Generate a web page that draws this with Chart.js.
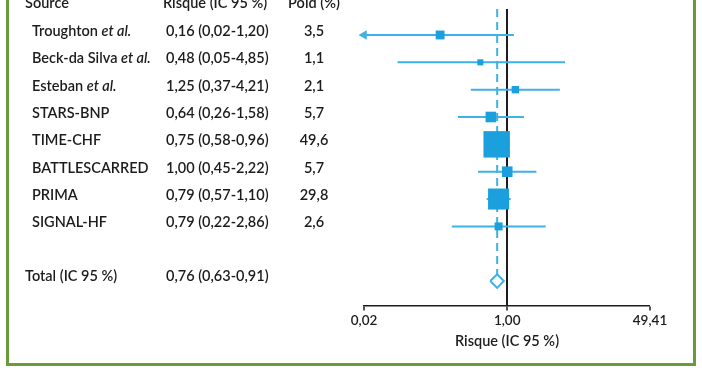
<!DOCTYPE html>
<html><head><meta charset="utf-8">
<script src="https://cdn.jsdelivr.net/npm/chart.js@4.4.1/dist/chart.umd.min.js"></script>
<style>html,body{margin:0;padding:0;background:#fff;} canvas{display:block;}</style>
</head><body>
<canvas id="c" width="702" height="370"></canvas>
<script>
// ---- data ----
const studies   = ['Troughton','Beck-da Silva','Esteban','STARS-BNP','TIME-CHF','BATTLESCARRED','PRIMA','SIGNAL-HF'];
const etAl      = [true, true, true, false, false, false, false, false];
const riskRatio = [0.16, 0.48, 1.25, 0.64, 0.75, 1.00, 0.79, 0.79];
const ciLow     = [0.02, 0.05, 0.37, 0.26, 0.58, 0.45, 0.57, 0.22];
const ciHigh    = [1.20, 4.85, 4.21, 1.58, 0.96, 2.22, 1.10, 2.86];
const weights   = [3.5, 1.1, 2.1, 5.7, 49.6, 5.7, 29.8, 2.6];
const totalLabel = ['Total (IC 95 %)'];
const totalRatio = [0.76];
const totalLow   = [0.63];
const totalHigh  = [0.91];
const xTicks     = [0.02, 1.00, 49.41];
const headers    = ['Source', 'Risque (IC 95 %)', 'Poid (%)'];
const axisTitle  = 'Risque (IC 95 %)';

// ---- styles ----
const BLUE = '#1ba0dd', LINE = '#3fb1e5', INK = '#1e1b1c', GREEN = '#6a9b3b';
const FONT = 'Lato';
const FS = 14.5;
const X_MIN = xTicks[0], X_MAX = xTicks[xTicks.length - 1];
const Y_MIN = -0.95, Y_MAX = 9.89;
const totalRow = studies.length + 1;
const D = 0.25; // diamond half height (in row units)
const fmt2 = v => v.toFixed(2).replace('.', ',');
const fmt1 = v => v.toFixed(1).replace('.', ',');

const datasets = [];
// squares (top)
datasets.push({
  type: 'scatter',
  data: riskRatio.map((r, i) => ({x: r, y: i})),
  pointStyle: 'rect',
  pointRadius: weights.map(w => (3.4 * Math.sqrt(w) + 2.5) / Math.SQRT2),
  pointBackgroundColor: BLUE, pointBorderWidth: 0, pointBorderColor: BLUE,
  clip: false
});
// total diamond
datasets.push({
  type: 'line',
  data: [
    {x: totalLow[0], y: totalRow}, {x: totalRatio[0], y: totalRow - D},
    {x: totalHigh[0], y: totalRow}, {x: totalRatio[0], y: totalRow + D},
    {x: totalLow[0], y: totalRow}
  ],
  borderColor: LINE, borderWidth: 2, fill: false, pointRadius: 0, tension: 0,
  borderJoinStyle: 'miter', clip: false
});
// CI lines
studies.forEach((s, i) => {
  datasets.push({
    type: 'line',
    data: [{x: ciLow[i], y: i}, {x: ciHigh[i], y: i}],
    borderColor: LINE, borderWidth: 2, tension: 0,
    pointStyle: 'triangle', pointRotation: -90,
    pointRadius: [ciLow[i] <= X_MIN ? 5.5 : 0, 0],
    pointBackgroundColor: LINE, pointBorderWidth: 0,
    clip: false
  });
});
// dashed overall line
datasets.push({
  type: 'line',
  data: [{x: totalRatio[0], y: Y_MIN}, {x: totalRatio[0], y: totalRow - D}],
  borderColor: LINE, borderWidth: 2, borderDash: [8, 5], pointRadius: 0, clip: false
});

const textPlugin = {
  id: 'forestText',
  beforeDraw(chart) {
    const ctx = chart.ctx;
    ctx.save();
    ctx.strokeStyle = GREEN; ctx.lineWidth = 3;
    ctx.beginPath();
    ctx.moveTo(7.5, 0); ctx.lineTo(7.5, 364.5); ctx.lineTo(694.5, 364.5); ctx.lineTo(694.5, 0);
    ctx.stroke();
    ctx.restore();
  },
  afterDraw(chart) {
    const ctx = chart.ctx, ys = chart.scales.y;
    ctx.save();
    ctx.fillStyle = INK;
    ctx.textBaseline = 'alphabetic';
    const reg = `600 ${FS}px ${FONT}`, ita = `italic 600 ${FS}px ${FONT}`;
    // headers
    ctx.font = reg;
    ctx.textAlign = 'left';
    ctx.fillText(headers[0], 25, 8);
    ctx.fillText(headers[1], 163, 8);
    ctx.textAlign = 'center';
    ctx.fillText(headers[2], 314, 8);
    studies.forEach((s, i) => {
      const py = ys.getPixelForValue(i) + 1;
      ctx.font = reg; ctx.textAlign = 'left';
      ctx.fillText(s, 32, py);
      if (etAl[i]) {
        const w = ctx.measureText(s + ' ').width;
        ctx.font = ita;
        ctx.fillText('et al.', 32 + w, py);
        ctx.font = reg;
      }
      ctx.fillText(`${fmt2(riskRatio[i])} (${fmt2(ciLow[i])}-${fmt2(ciHigh[i])})`, 166, py);
      ctx.textAlign = 'center';
      ctx.fillText(fmt1(weights[i]), 314, py);
    });
    const pt = ys.getPixelForValue(totalRow);
    ctx.textAlign = 'left';
    ctx.fillText(totalLabel[0], 25, pt);
    ctx.fillText(`${fmt2(totalRatio[0])} (${fmt2(totalLow[0])}-${fmt2(totalHigh[0])})`, 166, pt);
    ctx.restore();
  }
};

new Chart(document.getElementById('c'), {
  data: {datasets},
  options: {
    responsive: false, animation: false, devicePixelRatio: 1,
    layout: {autoPadding: false, padding: {left: 364, right: 52, top: 9, bottom: 20}},
    plugins: {legend: {display: false}, tooltip: {enabled: false}},
    scales: {
      x: {
        type: 'logarithmic', min: X_MIN, max: X_MAX, bounds: 'data',
        afterBuildTicks: sc => { sc.ticks = xTicks.map(v => ({value: v})); },
        ticks: {
          callback: v => fmt2(v), color: INK, padding: 2, maxRotation: 0, autoSkip: false,
          font: {family: FONT, size: 13.5, weight: '600'}
        },
        grid: {
          drawOnChartArea: true, drawTicks: true, tickLength: 5, tickColor: INK, tickWidth: 1.5,
          color: c => (c.tick && c.tick.value === 1) ? INK : 'rgba(0,0,0,0)',
          lineWidth: c => (c.tick && c.tick.value === 1) ? 2 : 0
        },
        border: {display: true, color: INK, width: 1.5},
        title: {display: true, text: axisTitle, color: INK, padding: {top: 2, bottom: 0},
          font: {family: FONT, size: 14.5, weight: '600'}}
      },
      y: {
        type: 'linear', reverse: true, min: Y_MIN, max: Y_MAX, bounds: 'data',
        display: false
      }
    }
  },
  plugins: [textPlugin]
});
</script>
</body></html>
